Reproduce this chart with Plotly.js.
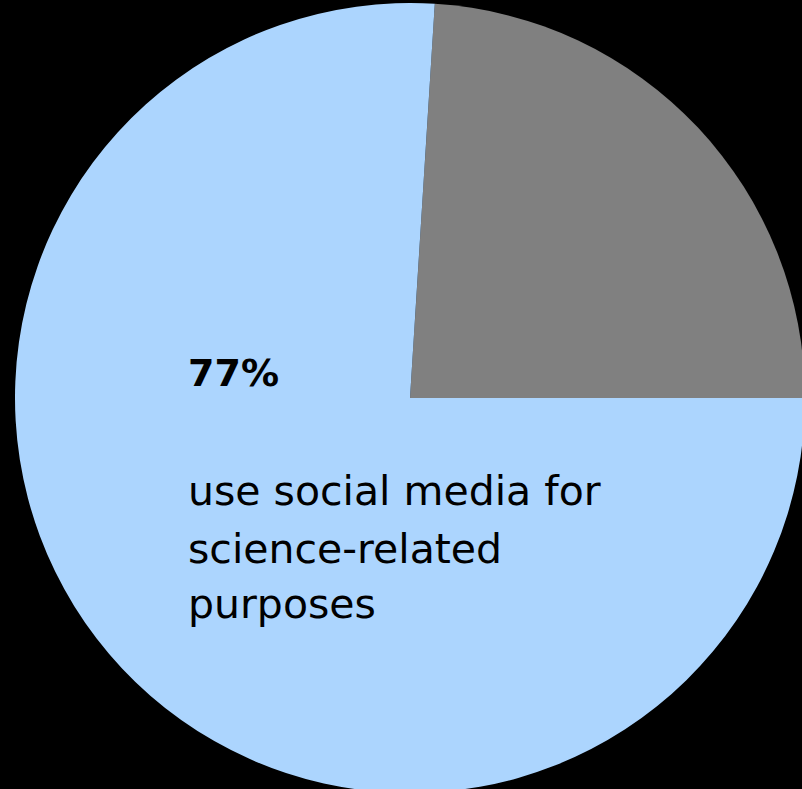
<!DOCTYPE html>
<html>
<head>
<meta charset="utf-8">
<script src="https://cdn.plot.ly/plotly-3.0.1.min.js"></script>
<style>
  html, body { margin: 0; padding: 0; background: #000; width: 802px; height: 789px; overflow: hidden; }
  #chart { position: absolute; left: 15px; top: 3px; width: 790px; height: 790px; }
</style>
</head>
<body>
<div id="chart"></div>
<script>
// Data
const categories = ["Do not use social media for science-related purposes", "Use social media for science-related purposes"];
const shares = [24, 76];
const sliceColors = ["#808080", "#acd5fe"];
const headline = "77%";
const captionLines = ["use social media for", "science-related", "purposes"];

const W = 790, H = 790;
const fontFam = "'DejaVu Sans', 'Open Sans', sans-serif";

const annotations = [
  { text: "<b>" + headline + "</b>", x: 171 / W, y: 1 - 370 / H, xref: "paper", yref: "paper",
    xanchor: "left", yanchor: "middle", showarrow: false,
    font: { family: fontFam, size: 38, color: "#000" } }
];
const lineY = [488, 546, 601];
captionLines.forEach((t, i) => annotations.push({
  text: t, x: 171 / W, y: 1 - lineY[i] / H, xref: "paper", yref: "paper",
  xanchor: "left", yanchor: "middle", showarrow: false,
  font: { family: fontFam, size: 41, color: "#000" }
}));

const data = [{
  type: "pie",
  labels: categories,
  values: shares,
  sort: false,
  direction: "clockwise",
  rotation: 90 - shares[0] * 3.6,
  marker: { colors: sliceColors, line: { width: 0 } },
  textinfo: "none",
  hoverinfo: "label+percent",
  showlegend: false,
  domain: { x: [0, 1], y: [0, 1] }
}];

const layout = {
  width: W, height: H,
  margin: { l: 0, r: 0, t: 0, b: 0, pad: 0 },
  paper_bgcolor: "#000",
  plot_bgcolor: "#000",
  showlegend: false,
  annotations: annotations
};

Plotly.newPlot("chart", data, layout, { displayModeBar: false, staticPlot: true });
</script>
</body>
</html>
